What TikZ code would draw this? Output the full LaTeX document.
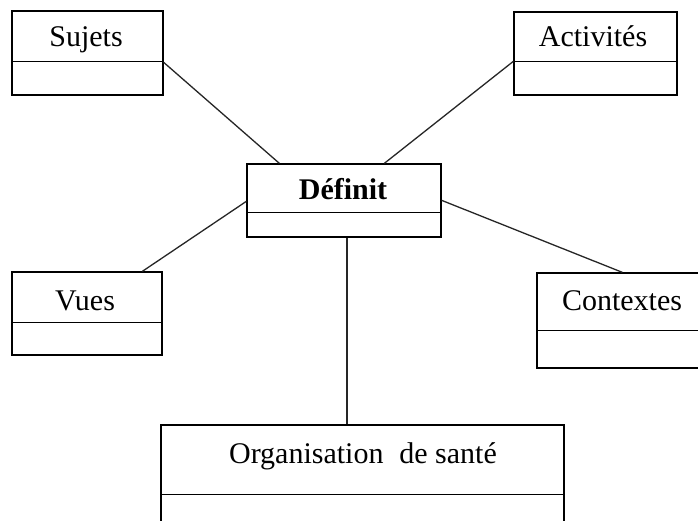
\documentclass[tikz,border=0pt]{standalone}
\usepackage{fontspec}
\setmainfont{Liberation Serif}
\begin{document}
\begin{tikzpicture}[x=1pt,y=-1pt,
  line width=1.3pt,
  classbox/.style={draw=black, rectangle, inner sep=0pt, line width=1.3pt},
  lbl/.style={inner sep=0pt, anchor=base, font=\fontsize{30}{35}\selectfont},
  link/.style={draw=black!85, line width=1.3pt}]
  \clip (0,0) rectangle (698,521);
  \fill[white] (0,0) rectangle (698,521);

  % class boxes (two compartments each)
  \node[classbox, minimum width=151pt, minimum height=84pt] (suj) at (87.5,53) {};
  \node[classbox, minimum width=163pt, minimum height=83pt] (act) at (595.5,53.5) {};
  \node[classbox, minimum width=194pt, minimum height=73pt] (def) at (344,200.5) {};
  \node[classbox, minimum width=150pt, minimum height=83pt] (vues) at (87,313.5) {};
  \node[classbox, minimum width=173pt, minimum height=95pt] (ctx) at (623.5,320.5) {};
  \node[classbox, minimum width=403pt, minimum height=135pt] (org) at (362.5,492.5) {};

  % compartment dividers
  \draw ([yshift=-51pt]suj.north west) -- ([yshift=-51pt]suj.north east);
  \draw ([yshift=-50pt]act.north west) -- ([yshift=-50pt]act.north east);
  \draw ([yshift=-49pt]def.north west) -- ([yshift=-49pt]def.north east);
  \draw ([yshift=-51pt]vues.north west) -- ([yshift=-51pt]vues.north east);
  \draw ([yshift=-58pt]ctx.north west) -- ([yshift=-58pt]ctx.north east);
  \draw ([yshift=-70pt]org.north west) -- ([yshift=-70pt]org.north east);

  % class names
  \node[lbl] (sujt) at (86,47) {Sujets};
  \node[lbl] (actt) at (593,47) {Activités};
  \node[lbl, font=\fontsize{30}{35}\selectfont\bfseries] (deft) at (343,200) {Définit};
  \node[lbl] (vuest) at (85,310) {Vues};
  \node[lbl] (ctxt) at (622,310) {Contextes};
  \node[lbl] (orgt) at (363,463) {Organisation\hspace{0.28em} de santé};

  % associations
  \draw[link] ([yshift=-52pt]suj.north east) -- ([xshift=33pt]def.north west);
  \draw[link] ([yshift=-50pt]act.north west) -- ([xshift=138pt]def.north west);
  \draw[link] ([xshift=131pt]vues.north west) -- ([yshift=-38pt]def.north west);
  \draw[link] ([xshift=86pt]ctx.north west) -- ([yshift=-37pt]def.north east);
  \draw[link] ([xshift=3pt]def.south) -- ([xshift=3pt]def.south |- org.north);
\end{tikzpicture}
\end{document}
